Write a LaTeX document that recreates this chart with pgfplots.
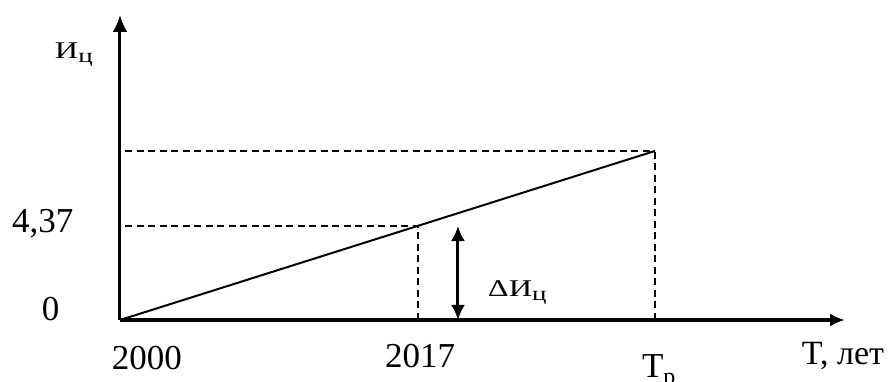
\documentclass[border=0pt]{standalone}
\usepackage{fontspec}
\setmainfont{Liberation Serif}
\newfontfamily\ifont[FakeStretch=1.35]{Liberation Serif}
\usepackage{pgfplots}
\pgfplotsset{compat=1.18}
\usetikzlibrary{arrows.meta}
\newcommand{\Ic}{{\ifont\fontsize{24bp}{28bp}\selectfont И\raisebox{-4bp}{\fontsize{20bp}{24bp}\selectfont ц}}}
\tikzset{lbl/.style={inner sep=0pt, outer sep=0pt, anchor=base west}}
\begin{document}
\begin{tikzpicture}
\begin{axis}[
  at={(0,0)}, anchor=south west,
  scale only axis, width=725bp, height=305bp,
  xmin=2000, xmax=2041.36, ymin=0, ymax=14.18,
  axis lines=left,
  x axis line style={line width=3bp, -{Latex[length=15bp,width=13bp]}},
  y axis line style={line width=3bp, -{Latex[length=17bp,width=15bp]}},
  xtick=\empty, ytick=\empty,
  clip=false,
]
\addplot[black, line width=2bp] coordinates {(2000,0) (2030.52,7.86)};
\addplot[black, line width=1.6bp, dash pattern=on 7bp off 4.5bp] coordinates {(2000.3,7.86) (2030.52,7.86)};
\addplot[black, line width=1.6bp, dash pattern=on 7bp off 4.5bp] coordinates {(2030.52,0) (2030.52,7.86)};
\addplot[black, line width=1.6bp, dash pattern=on 7bp off 4.5bp] coordinates {(2000.3,4.37) (2017,4.37)};
\addplot[black, line width=1.6bp, dash pattern=on 7bp off 4.5bp] coordinates {(2017,0) (2017,4.37)};
\addplot[black, line width=3bp, {Latex[length=15bp,width=14bp]}-{Latex[length=15bp,width=14bp]}] coordinates {(2019.28,0) (2019.28,4.37)};
\node[lbl] at (axis cs:1996.29,12.18) {\Ic};
\node[lbl] at (axis cs:1993.84,4.09) {\fontsize{35bp}{40bp}\selectfont 4,37};
\node[lbl] at (axis cs:1995.55,0) {\fontsize{35bp}{40bp}\selectfont 0};
\node[lbl] at (axis cs:1999.54,-2.28) {\fontsize{35bp}{40bp}\selectfont 2000};
\node[lbl] at (axis cs:2015.12,-2.23) {\fontsize{35bp}{40bp}\selectfont 2017};
\node[lbl] at (axis cs:2029.78,-2.65) {\fontsize{35bp}{40bp}\selectfont T\raisebox{-7bp}{\fontsize{24bp}{28bp}\selectfont р}};
\node[lbl] at (axis cs:2038.9,-2.09) {\fontsize{34bp}{40bp}\selectfont T, лет};
\node[lbl] at (axis cs:2020.99,1.07) {{\ifont\fontsize{24bp}{28bp}\selectfont Δ}\Ic};
\end{axis}
\pgfresetboundingbox
\path[use as bounding box] (-120bp,-62bp) rectangle (773bp,320bp);
\end{tikzpicture}
\end{document}
